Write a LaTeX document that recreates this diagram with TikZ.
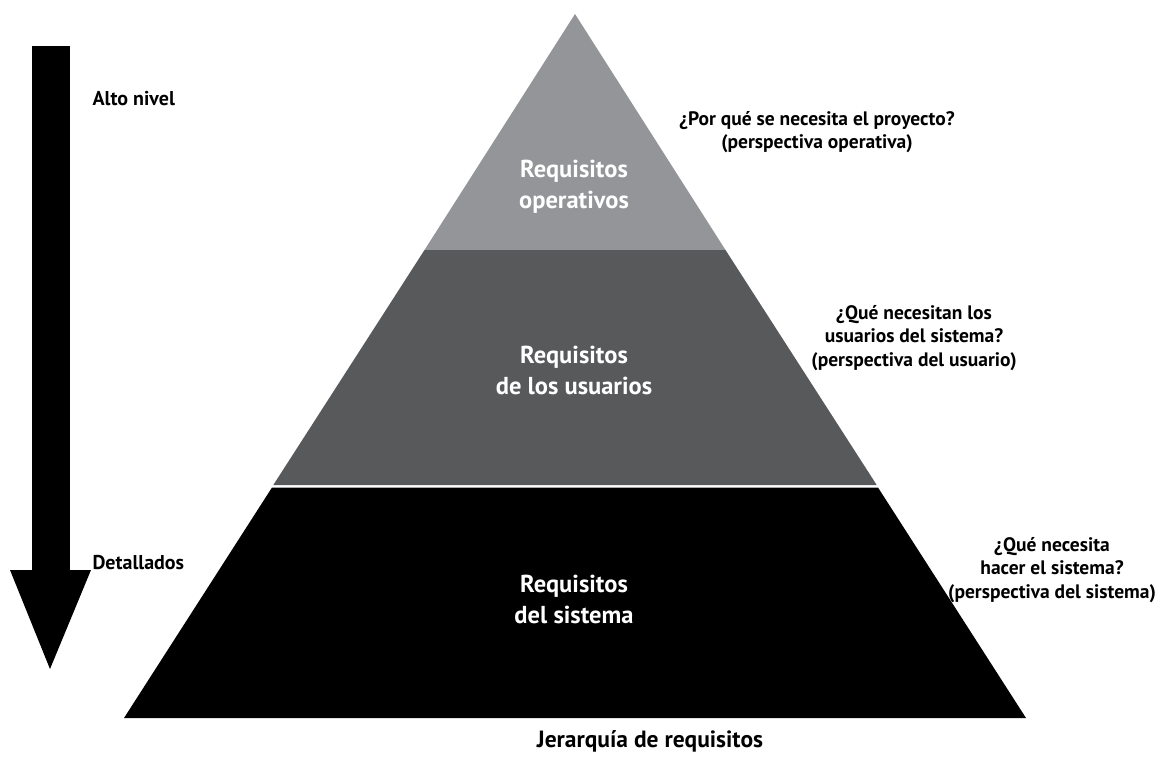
\documentclass[tikz,border=0pt]{standalone}
\usepackage{fontspec}
\setmainfont{PT Sans}
\definecolor{topgray}{HTML}{939598}
\definecolor{midgray}{HTML}{58595B}
\begin{document}
\begin{tikzpicture}[x=1pt,y=-1pt,
  layertext/.style={text=white,align=center,font=\bfseries\fontsize{24.5}{31}\selectfont},
  sidetext/.style={text=black,align=center,font=\bfseries\fontsize{19.5}{23.5}\selectfont},
  lefttext/.style={text=black,anchor=west,font=\bfseries\fontsize{20}{24}\selectfont},
  titletext/.style={text=black,font=\bfseries\fontsize{23.5}{28}\selectfont}]
\useasboundingbox (0,0) rectangle (1157,772);
% pyramid layers
\fill[topgray] (575,14) -- (725.5,250) -- (424.5,250) -- cycle;
\fill[midgray] (424.5,250) -- (725.5,250) -- (876.7,485) -- (273.3,485) -- cycle;
\fill[black] (272,487.5) -- (878,487.5) -- (1026,718) -- (124,718) -- cycle;
% arrow
\fill[black] (32,46) rectangle (70,571);
\fill[black] (10,570) -- (91,570) -- (50,669) -- cycle;
% layer labels
\node[layertext] (op) at (574,187) {Requisitos\\operativos};
\node[layertext] (us) at (574,370) {Requisitos\\de los usuarios};
\node[layertext] (sy) at (574,599) {Requisitos\\del sistema};
% side labels
\node[sidetext] (q1) at (817,132) {¿Por qué se necesita el proyecto?\\(perspectiva operativa)};
\node[sidetext] (q2) at (914,338) {¿Qué necesitan los\\usuarios del sistema?\\(perspectiva del usuario)};
\node[sidetext] (q3) at (1052,570) {¿Qué necesita\\hacer el sistema?\\(perspectiva del sistema)};
% left labels
\node[lefttext] (alto) at (89,99) {Alto nivel};
\node[lefttext] (det) at (89,563) {Detallados};
% title
\node[titletext] (title) at (650,741) {Jerarquía de requisitos};
\end{tikzpicture}
\end{document}
